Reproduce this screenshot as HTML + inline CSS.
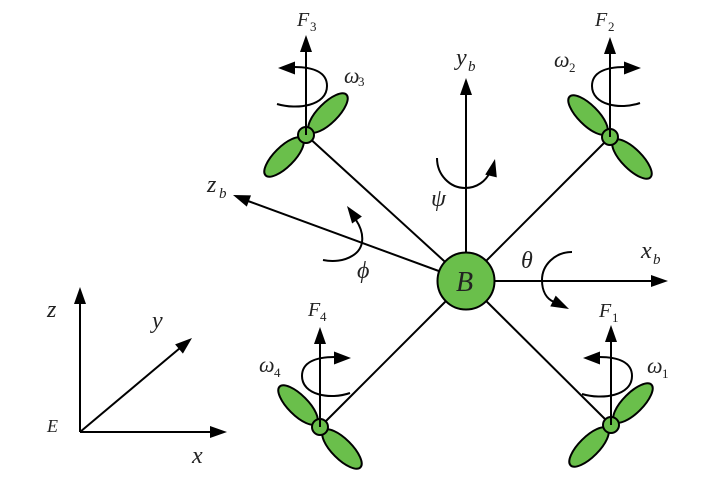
<!DOCTYPE html>
<html>
<head>
<meta charset="utf-8">
<style>
html,body{margin:0;padding:0;background:#fff;}
svg{display:block;}
text{font-family:"Liberation Serif",serif;font-style:italic;fill:#222;}
.sub{font-style:normal;}
</style>
</head>
<body>
<svg width="702" height="483" viewBox="0 0 702 483" xmlns="http://www.w3.org/2000/svg">
<g stroke="#000" stroke-width="2" fill="none">
  <!-- arms -->
  <line x1="466" y1="281" x2="306" y2="135"/>
  <line x1="466" y1="281" x2="610" y2="137"/>
  <line x1="466" y1="281" x2="320" y2="427"/>
  <line x1="466" y1="281" x2="611" y2="425"/>
  <!-- body axes -->
  <line x1="466" y1="281" x2="466" y2="92"/>
  <line x1="466" y1="281" x2="652" y2="281"/>
  <line x1="466" y1="281" x2="248" y2="201"/>
  <!-- world frame -->
  <line x1="80" y1="432" x2="80" y2="302"/>
  <line x1="80" y1="432" x2="212" y2="432"/>
  <line x1="80" y1="432" x2="180" y2="348"/>
</g>
<g fill="#000">
  <polygon points="466,78 460,95 472,95"/>
  <polygon points="668,281 651,275 651,287"/>
  <polygon points="233,195 251,195.4 246.8,206.6"/>
  <polygon points="80,287 74,304 86,304"/>
  <polygon points="227,432 210,426 210,438"/>
  <polygon points="192,338 182.9,353.6 175.1,344.4"/>
</g>

<!-- propellers -->
<g fill="#6abf4b" stroke="#000" stroke-width="2">
  <ellipse cx="328" cy="113" rx="26" ry="10" transform="rotate(-45 328 113)"/>
  <ellipse cx="284" cy="157" rx="26" ry="10" transform="rotate(-45 284 157)"/>
  <ellipse cx="588" cy="115" rx="26" ry="10" transform="rotate(45 588 115)"/>
  <ellipse cx="632" cy="159" rx="26" ry="10" transform="rotate(45 632 159)"/>
  <ellipse cx="298" cy="405" rx="26" ry="10" transform="rotate(45 298 405)"/>
  <ellipse cx="342" cy="449" rx="26" ry="10" transform="rotate(45 342 449)"/>
  <ellipse cx="633" cy="403" rx="26" ry="10" transform="rotate(-45 633 403)"/>
  <ellipse cx="589" cy="447" rx="26" ry="10" transform="rotate(-45 589 447)"/>
  <circle cx="306" cy="135" r="8"/>
  <circle cx="610" cy="137" r="8"/>
  <circle cx="320" cy="427" r="8"/>
  <circle cx="611" cy="425" r="8"/>
  <circle cx="466" cy="281" r="28.5"/>
</g>

<!-- force arrows -->
<g stroke="#000" stroke-width="2" fill="none">
  <line x1="306" y1="135" x2="306" y2="50"/>
  <line x1="610" y1="137" x2="610" y2="52"/>
  <line x1="320" y1="427" x2="320" y2="342"/>
  <line x1="611" y1="425" x2="611" y2="340"/>
</g>
<g fill="#000">
  <polygon points="306,35 300,52 312,52"/>
  <polygon points="610,37 604,54 616,54"/>
  <polygon points="320,327 314,344 326,344"/>
  <polygon points="611,325 605,342 617,342"/>
</g>

<!-- rotation arcs -->
<g stroke="#000" stroke-width="2" fill="none">
  <path d="M277,104 C297,110 327,106 327,86 C327,72 313,67 294,67"/>
  <path d="M640,103 C620,110 592,105 592,86 C592,72 606,67 625,67"/>
  <path d="M350,393 C330,400 302,395 302,376 C302,362 316,357 335,357"/>
  <path d="M582,394 C602,400 632,396 632,376 C632,362 618,357 599,357"/>
  <path d="M437,158 C437,175 450,188 465,188 C477,188 486,181 490,172"/>
  <path d="M356,220 C364,232 366,248 352,256 C344,261 333,262 323,260"/>
  <path d="M572,252 C555,252 542,265 542,280 C542,292 547,299 554,302"/>
</g>
<g fill="#000">
  <polygon points="278,68 295,61.5 295,74.5"/>
  <polygon points="641,68 624,61.5 624,74.5"/>
  <polygon points="351,358 334,351.5 334,364.5"/>
  <polygon points="583,358 600,351.5 600,364.5"/>
  <polygon points="495,159 496.8,177.4 485.2,174.6"/>
  <polygon points="347,206 361.9,216.5 352.1,223.5"/>
  <polygon points="569,309 550.3,306.4 555.7,295.6"/>
</g>

<!-- labels -->
<text x="297" y="26" font-size="20">F</text><text class="sub" x="310" y="31" font-size="13">3</text>
<text x="595" y="26" font-size="20">F</text><text class="sub" x="608" y="31" font-size="13">2</text>
<text x="308" y="316" font-size="20">F</text><text class="sub" x="320" y="321" font-size="13">4</text>
<text x="599" y="317" font-size="20">F</text><text class="sub" x="612" y="322" font-size="13">1</text>

<text x="344" y="83" font-size="22">ω</text><text class="sub" x="358" y="86" font-size="13">3</text>
<text x="554" y="67" font-size="22">ω</text><text class="sub" x="569" y="72" font-size="13">2</text>
<text x="259" y="372" font-size="22">ω</text><text class="sub" x="274" y="377" font-size="13">4</text>
<text x="647" y="373" font-size="22">ω</text><text class="sub" x="662" y="378" font-size="13">1</text>

<text x="456" y="65" font-size="24">y</text><text x="468" y="71" font-size="15">b</text>
<text x="641" y="258" font-size="24">x</text><text x="653" y="264" font-size="15">b</text>
<text x="207" y="192" font-size="24">z</text><text x="219" y="198" font-size="15">b</text>

<text x="521" y="268" font-size="24">θ</text>
<text x="431" y="206" font-size="24">ψ</text>
<text x="357" y="278" font-size="24">ϕ</text>
<text x="456" y="291" font-size="28">B</text>

<text x="47" y="317" font-size="24">z</text>
<text x="152" y="328" font-size="24">y</text>
<text x="47" y="432" font-size="18">E</text>
<text x="192" y="463" font-size="24">x</text>
</svg>
</body>
</html>
